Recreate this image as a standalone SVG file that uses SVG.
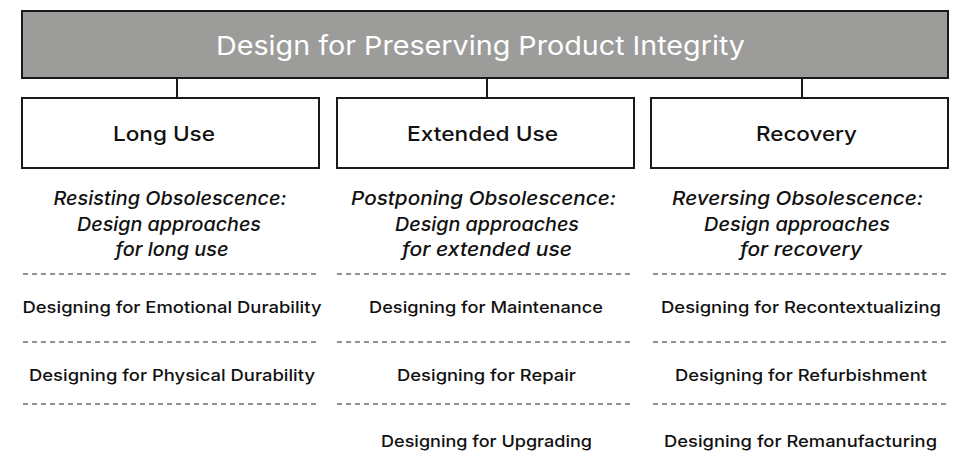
<svg xmlns="http://www.w3.org/2000/svg" width="953" height="475" viewBox="0 0 953 475">
<style>
.box{fill:#fff;stroke:#1a1a1a;stroke-width:2}
.top{fill:#9c9c9b;stroke:#1a1a1a;stroke-width:2}
.conn{stroke:#1a1a1a;stroke-width:2;fill:none}
.dash{stroke:#6e6e6e;stroke-width:1.5;stroke-dasharray:5 4;fill:none}
text{font-family:Inter,"Noto Sans","Liberation Sans",sans-serif;text-anchor:middle;fill:#111}
.title{font-size:26px;fill:#fff;font-weight:400}
.lbl{font-size:20px;font-weight:500}
.sub{font-size:19px;font-weight:500;font-style:italic}
.item{font-size:16.5px;font-weight:500}
</style>
<rect width="953" height="475" fill="#fff"/>
<g id="connectors">
<line class="conn" x1="177" y1="78" x2="177" y2="98"/>
<line class="conn" x1="487" y1="78" x2="487" y2="98"/>
<line class="conn" x1="802" y1="78" x2="802" y2="98"/>
</g>
<g id="root">
<rect class="top" x="22" y="11" width="926" height="67"/>
<text class="title" x="480.5" y="54.5" textLength="529" lengthAdjust="spacingAndGlyphs">Design for Preserving Product Integrity</text>
</g>
<g id="long-use">
<rect class="box" x="22" y="98" width="297" height="70"/>
<text class="lbl" x="164" y="141" textLength="102" lengthAdjust="spacingAndGlyphs">Long Use</text>
</g>
<g id="extended-use">
<rect class="box" x="337" y="98" width="297" height="70"/>
<text class="lbl" x="482.5" y="141" textLength="151" lengthAdjust="spacingAndGlyphs">Extended Use</text>
</g>
<g id="recovery">
<rect class="box" x="651" y="98" width="297" height="70"/>
<text class="lbl" x="806.5" y="141" textLength="101" lengthAdjust="spacingAndGlyphs">Recovery</text>
</g>
<g id="col-long">
<text class="sub" x="170" y="205" textLength="233" lengthAdjust="spacingAndGlyphs">Resisting Obsolescence:</text>
<text class="sub" x="169" y="231" textLength="184" lengthAdjust="spacingAndGlyphs">Design approaches</text>
<text class="sub" x="172" y="256" textLength="113" lengthAdjust="spacingAndGlyphs">for long use</text>
<line class="dash" x1="23" y1="274" x2="318" y2="274"/>
<text class="item" x="172" y="313" textLength="299" lengthAdjust="spacingAndGlyphs">Designing for Emotional Durability</text>
<line class="dash" x1="23" y1="342" x2="318" y2="342"/>
<text class="item" x="172" y="381" textLength="286" lengthAdjust="spacingAndGlyphs">Designing for Physical Durability</text>
<line class="dash" x1="23" y1="404" x2="318" y2="404"/>
</g>
<g id="col-extended">
<text class="sub" x="483.5" y="205" textLength="265" lengthAdjust="spacingAndGlyphs">Postponing Obsolescence:</text>
<text class="sub" x="487" y="231" textLength="184" lengthAdjust="spacingAndGlyphs">Design approaches</text>
<text class="sub" x="487" y="256" textLength="170" lengthAdjust="spacingAndGlyphs">for extended use</text>
<line class="dash" x1="337" y1="274" x2="633" y2="274"/>
<text class="item" x="486" y="313" textLength="234" lengthAdjust="spacingAndGlyphs">Designing for Maintenance</text>
<line class="dash" x1="337" y1="342" x2="633" y2="342"/>
<text class="item" x="486.5" y="381" textLength="179" lengthAdjust="spacingAndGlyphs">Designing for Repair</text>
<line class="dash" x1="337" y1="404" x2="633" y2="404"/>
<text class="item" x="486.5" y="447" textLength="211" lengthAdjust="spacingAndGlyphs">Designing for Upgrading</text>
</g>
<g id="col-recovery">
<text class="sub" x="797.5" y="205" textLength="251" lengthAdjust="spacingAndGlyphs">Reversing Obsolescence:</text>
<text class="sub" x="797" y="231" textLength="186" lengthAdjust="spacingAndGlyphs">Design approaches</text>
<text class="sub" x="801" y="256" textLength="122" lengthAdjust="spacingAndGlyphs">for recovery</text>
<line class="dash" x1="653" y1="274" x2="950" y2="274"/>
<text class="item" x="801" y="313" textLength="280" lengthAdjust="spacingAndGlyphs">Designing for Recontextualizing</text>
<line class="dash" x1="653" y1="342" x2="950" y2="342"/>
<text class="item" x="801" y="381" textLength="252" lengthAdjust="spacingAndGlyphs">Designing for Refurbishment</text>
<line class="dash" x1="653" y1="404" x2="950" y2="404"/>
<text class="item" x="800.5" y="447" textLength="273" lengthAdjust="spacingAndGlyphs">Designing for Remanufacturing</text>
</g>
</svg>
